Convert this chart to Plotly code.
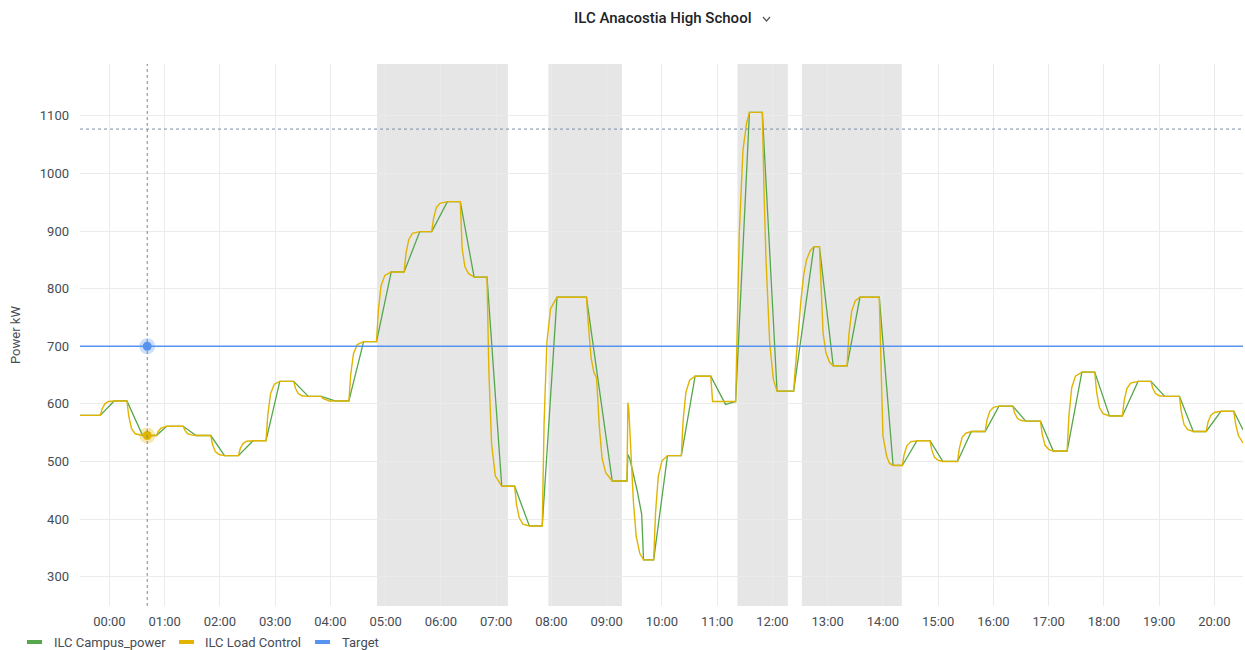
import pandas as pd
import plotly.graph_objects as go

DAY = pd.Timestamp("2021-06-15")

# (minutes after midnight, kW)
CAMPUS_POWER = [
    (-32, 580), (-10, 580), (5, 605), (19, 605), (36, 545), (51, 545), (62, 561),
    (80, 561), (94, 545), (110, 545), (125, 510), (140, 510), (156, 536), (170, 536),
    (185, 639), (200, 639), (216, 613), (230, 613), (245, 605), (260, 605), (276, 708),
    (290, 708), (306, 829), (320, 829), (337, 899), (350, 899), (367, 951), (381, 951),
    (396, 820), (410, 820), (426, 457), (440, 457), (456, 388), (470, 388), (486, 785),
    (518, 785), (546, 466), (562, 466), (563, 512), (565, 505), (573, 450), (578, 408),
    (580, 329), (591, 329), (606, 510), (621, 510), (636, 648), (653, 648), (669, 599),
    (680, 604), (695, 1106), (709, 1106), (725, 622), (743, 622), (765, 873), (771, 873),
    (786, 666), (801, 666), (815, 785), (836, 785), (851, 493), (861, 493), (877, 536),
    (891, 536), (905, 500), (921, 500), (936, 552), (951, 552), (966, 596), (981, 596),
    (995, 570), (1011, 570), (1025, 518), (1040, 518), (1056, 655), (1070, 655),
    (1086, 579), (1100, 579), (1117, 639), (1131, 639), (1146, 613), (1162, 613),
    (1177, 552), (1191, 552), (1207, 587), (1221, 587), (1231, 555),
]

LOAD_CONTROL = [
    (-32, 580), (-10, 580), (-8, 591), (-5, 600), (-1, 604), (5, 605),
    (19, 605), (21, 578), (24, 557), (28, 548), (36, 545),
    (51, 545), (53, 552), (56, 558), (60, 560), (62, 561),
    (80, 561), (82, 554), (85, 548), (89, 546), (94, 545),
    (110, 545), (112, 529), (115, 517), (119, 512), (125, 510),
    (140, 510), (142, 522), (145, 531), (149, 535), (156, 536),
    (170, 536), (172, 582), (175, 618), (179, 634), (185, 639),
    (200, 639), (202, 627), (205, 618), (209, 614), (216, 613),
    (230, 613), (232, 609), (235, 607), (239, 605), (245, 605),
    (260, 605), (262, 651), (265, 687), (269, 703), (276, 708),
    (290, 708), (292, 762), (295, 805), (299, 823), (306, 829),
    (320, 829), (322, 861), (325, 885), (329, 896), (337, 899),
    (350, 899), (352, 922), (355, 941), (359, 948), (367, 951),
    (381, 951), (383, 870), (386, 838), (390, 826), (396, 820),
    (410, 820), (412, 657), (415, 530), (419, 475), (426, 457),
    (440, 457), (442, 426), (445, 402), (449, 391), (456, 388),
    (470, 388), (472, 567), (475, 706), (479, 765), (486, 785),
    (518, 785), (520, 740), (523, 680), (526, 655), (529, 645), (532, 560),
    (535, 505), (539, 480), (546, 466),
    (562, 466), (563, 602), (564, 590), (565, 560), (567, 509), (569, 430),
    (572, 370), (576, 340), (580, 329),
    (591, 329), (593, 410), (596, 474), (600, 501), (606, 510),
    (621, 510), (623, 572), (626, 620), (630, 641), (636, 648),
    (653, 648), (655, 604),
    (680, 604), (682, 750), (684, 896), (688, 1041), (692, 1088), (695, 1106),
    (709, 1106), (711, 960), (713, 850), (717, 706), (721, 642), (725, 622),
    (743, 622), (744, 645), (748, 730), (751, 781), (754, 825), (757, 850),
    (761, 866), (765, 873),
    (771, 873), (773, 790), (775, 723), (778, 689), (782, 672), (786, 666),
    (801, 666), (803, 720), (806, 761), (810, 779), (815, 785),
    (836, 785), (838, 650), (840, 544), (844, 509), (847, 497), (851, 493),
    (861, 493), (863, 512), (866, 527), (870, 534), (877, 536),
    (891, 536), (893, 520), (896, 507), (900, 502), (905, 500),
    (921, 500), (923, 523), (926, 542), (930, 549), (936, 552),
    (951, 552), (953, 572), (956, 587), (960, 594), (966, 596),
    (981, 596), (983, 584), (986, 575), (990, 571), (995, 570),
    (1011, 570), (1013, 547), (1016, 528), (1020, 521), (1025, 518),
    (1040, 518), (1042, 580), (1045, 628), (1049, 648), (1056, 655),
    (1070, 655), (1072, 621), (1075, 594), (1079, 583), (1086, 579),
    (1100, 579), (1102, 606), (1105, 627), (1109, 636), (1117, 639),
    (1131, 639), (1133, 627), (1136, 618), (1140, 614), (1146, 613),
    (1162, 613), (1164, 586), (1167, 564), (1171, 555), (1177, 552),
    (1191, 552), (1193, 568), (1196, 580), (1200, 585), (1207, 587),
    (1221, 587), (1223, 565), (1226, 545), (1231, 532),
]

TARGET_KW = 700
VIEW_MIN = [-32, 1231]

# ILC curtailment windows, minutes after midnight
EVENT_START = [290.6, 476.7, 681.9, 751.9]
EVENT_END = [432.7, 556.5, 736.7, 860.4]

# hover cursor
CURSOR_MIN = 41
CURSOR_KW = 1077
CURSOR_TARGET_KW = 700
CURSOR_LOAD_KW = 545

COLORS = {
    "ILC Campus_power": "#56A64B",
    "ILC Load Control": "#E0B400",
    "Target": "#5794F2",
}
TEXT = "#464c54"
GRID = "#ebebeb"


def ts(minutes):
    return DAY + pd.to_timedelta(minutes, unit="min")


def series(points):
    mins, kw = zip(*points)
    return [ts(m) for m in mins], list(kw)


fig = go.Figure()

x, y = series(CAMPUS_POWER)
fig.add_trace(go.Scatter(x=x, y=y, name="ILC Campus_power", mode="lines",
                         line=dict(color=COLORS["ILC Campus_power"], width=1.3)))
x, y = series(LOAD_CONTROL)
fig.add_trace(go.Scatter(x=x, y=y, name="ILC Load Control", mode="lines",
                         line=dict(color=COLORS["ILC Load Control"], width=1.4)))
fig.add_trace(go.Scatter(x=[ts(VIEW_MIN[0]), ts(VIEW_MIN[1])], y=[TARGET_KW, TARGET_KW],
                         name="Target", mode="lines",
                         line=dict(color=COLORS["Target"], width=1.6)))

# hover points with halo
for kw, name in [(CURSOR_TARGET_KW, "Target"), (CURSOR_LOAD_KW, "ILC Load Control")]:
    fig.add_trace(go.Scatter(x=[ts(CURSOR_MIN)], y=[kw], mode="markers",
                             marker=dict(size=16, color=COLORS[name], opacity=0.3),
                             hoverinfo="skip"))
    fig.add_trace(go.Scatter(x=[ts(CURSOR_MIN)], y=[kw], mode="markers",
                             marker=dict(size=9, color=COLORS[name]),
                             hoverinfo="skip"))

shapes = []
for s, e in zip(EVENT_START, EVENT_END):
    shapes.append(dict(type="rect", xref="x", yref="paper", x0=ts(s), x1=ts(e), y0=0, y1=1,
                       fillcolor="rgba(120,120,120,0.19)", line_width=0, layer="between"))

# crosshair
shapes.append(dict(type="line", xref="x", yref="paper", x0=ts(CURSOR_MIN), x1=ts(CURSOR_MIN),
                   y0=0, y1=1, line=dict(color="#7b8794", width=1, dash="dot"), layer="above"))
shapes.append(dict(type="line", xref="paper", yref="y", x0=0, x1=1, y0=CURSOR_KW, y1=CURSOR_KW,
                   line=dict(color="#7b8fa3", width=1, dash="dot"), layer="above"))

# legend, drawn Grafana style under the plot
L, T, W, H = 80, 64, 1163, 542


def px(xp, yp):
    return (xp - L) / W, (T + H - yp) / H


legend_items = [("ILC Campus_power", 27, 52), ("ILC Load Control", 179, 203), ("Target", 315, 340)]
annotations = []
for name, sx, tx in legend_items:
    x0, y0 = px(sx, 644)
    x1, y1 = px(sx + 15, 640)
    shapes.append(dict(type="rect", xref="paper", yref="paper", x0=x0, x1=x1, y0=y0, y1=y1,
                       fillcolor=COLORS[name], line_width=0))
    ax, ay = px(tx, 642)
    annotations.append(dict(text=name, xref="paper", yref="paper", x=ax, y=ay,
                            xanchor="left", yanchor="middle",
                            showarrow=False, font=dict(size=13, color=TEXT)))

tx, ty = px(572, 18)
annotations.append(dict(text="ILC Anacostia High School", xref="paper", yref="paper",
                        x=tx, y=ty, xanchor="left", yanchor="middle",
                        showarrow=False, font=dict(size=15, color="#202226", weight=500)))
# dropdown chevron next to the title
c0, c1, c2 = px(763, 17), px(766.5, 21), px(770, 17)
shapes.append(dict(type="path", xref="paper", yref="paper",
                   path=f"M {c0[0]} {c0[1]} L {c1[0]} {c1[1]} L {c2[0]} {c2[1]}",
                   line=dict(color="#555", width=1.2)))
ax, ay = px(15, 335)
annotations.append(dict(text="Power kW", xref="paper", yref="paper", x=ax, y=ay,
                        xanchor="center", yanchor="middle", textangle=-90,
                        showarrow=False, font=dict(size=13, color=TEXT)))

fig.update_layout(
    width=1245,
    height=650,
    margin=dict(l=L, r=1245 - L - W, t=T, b=650 - T - H),
    plot_bgcolor="white",
    paper_bgcolor="white",
    font=dict(family="Roboto, sans-serif", size=13, color=TEXT),
    showlegend=False,
    shapes=shapes,
    annotations=annotations,
    xaxis=dict(
        type="date",
        range=[ts(VIEW_MIN[0]), ts(VIEW_MIN[1])],
        tick0=DAY,
        dtick=3600000,
        tickformat="%H:%M",
        showgrid=True,
        gridcolor=GRID,
        zeroline=False,
        showline=False,
        ticks="",
        ticklabelstandoff=6,
    ),
    yaxis=dict(
        range=[249, 1190],
        tick0=0,
        dtick=100,
        showgrid=True,
        gridcolor=GRID,
        zeroline=False,
        showline=False,
        ticks="",
        ticklabelstandoff=10,
    ),
)

fig.write_html("out.html", config={"displayModeBar": False},
               post_script="document.body.style.margin = '0';")
